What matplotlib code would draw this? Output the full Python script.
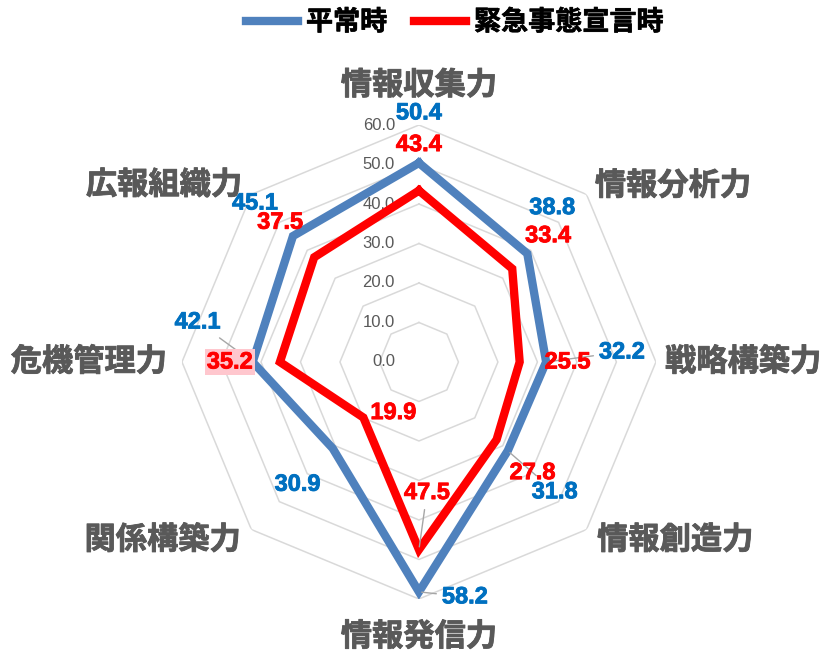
import numpy as np
import matplotlib
matplotlib.use('Agg')
import matplotlib.pyplot as plt
import matplotlib.patheffects as pe

# data
categories = ['情報収集力', '情報分析力', '戦略構築力', '情報創造力',
              '情報発信力', '関係構築力', '危機管理力', '広報組織力']
normal = [50.4, 38.8, 32.2, 31.8, 58.2, 30.9, 42.1, 45.1]
emergency = [43.4, 33.4, 25.5, 27.8, 47.5, 19.9, 35.2, 37.5]
series_names = ['平常時', '緊急事態宣言時']
ring_values = [0, 10, 20, 30, 40, 50, 60]

BLUE = '#4F81BD'
BLUE_TXT = '#0070C0'
RED = '#FF0000'
GRAY = '#595959'
CJK = ['Noto Sans CJK JP', 'DejaVu Sans']
NUM = ['Liberation Sans', 'DejaVu Sans']

def fat(c, w=1.2):
    # fake heavier weight
    return [pe.withStroke(linewidth=w, foreground=c)]

fig = plt.figure(figsize=(8.26, 6.54), dpi=100)
ax = fig.add_axes([0.2203, 0.0841, 0.5738, 0.7248], projection='polar')
ax.set_theta_zero_location('N')
ax.set_theta_direction(-1)
ax.set_ylim(0, 60)
ax.grid(False)
ax.spines['polar'].set_visible(False)
ax.set_xticks([])
ax.set_yticks([])
ax.patch.set_alpha(0)

n = len(categories)
theta = np.arange(n) * 2 * np.pi / n
theta_c = np.append(theta, theta[0])

# octagon rings
for r in ring_values[1:]:
    ax.plot(theta_c, [r] * (n + 1), color='#D9D9D9', lw=1.1, zorder=1)

# scale labels
for r in ring_values:
    ax.annotate(f'{r:.1f}', xy=(0, r), xytext=(-24, 0), textcoords='offset pixels',
                ha='right', va='center', fontsize=12, color=GRAY,
                family=NUM, zorder=2, annotation_clip=False)

# series
l1, = ax.plot(theta_c, normal + normal[:1], color=BLUE, lw=6, zorder=3,
              solid_joinstyle='miter', label=series_names[0])
l2, = ax.plot(theta_c, emergency + emergency[:1], color=RED, lw=6, zorder=4,
              solid_joinstyle='miter', label=series_names[1])

# category labels (radius, ha)
cat_pos = [(70.0, 'center'), (63.0, 'left'), (62.3, 'left'), (63.8, 'left'),
           (69.6, 'center'), (63.8, 'right'), (63.8, 'right'), (63.3, 'right')]
for t, lab, (r, ha) in zip(theta, categories, cat_pos):
    ax.text(t, r, lab, ha=ha, va='center', fontsize=22.5, fontweight='bold',
            color=GRAY, family=CJK, zorder=5, path_effects=fat(GRAY, 0.6))

# data labels: pixel offsets from the points
blue_off = [(0, 50), (25, 46), (76, 10), (47, -41), (46, -5), (-35, -36), (-55, 40), (-38, 33)]
red_off = [(0, 46), (36, 33), (48, 0), (36, -33), (8, 57), (30, 5), (-50, 0), (-34, 35)]
blue_lead = {4, 6, 2, 3}
red_lead = {4}

for i, (t, v) in enumerate(zip(theta, normal)):
    ap = None
    if i in blue_lead:
        ap = dict(arrowstyle='-', color='#A6A6A6', lw=1, shrinkA=2, shrinkB=2)
    ax.annotate(f'{v:.1f}', xy=(t, v), xytext=blue_off[i], textcoords='offset pixels',
                ha='center', va='center', fontsize=17, fontweight='bold',
                color=BLUE_TXT, family=NUM, zorder=6, arrowprops=ap,
                annotation_clip=False, path_effects=fat(BLUE_TXT, 0.6))

for i, (t, v) in enumerate(zip(theta, emergency)):
    ap = None
    if i in red_lead:
        ap = dict(arrowstyle='-', color='#A6A6A6', lw=1, shrinkA=2, shrinkB=2)
    bb = None
    if i == 6:
        bb = dict(boxstyle='square,pad=0.08', fc='#FFC7CE', ec='none')
    ax.annotate(f'{v:.1f}', xy=(t, v), xytext=red_off[i], textcoords='offset pixels',
                ha='center', va='center', fontsize=17, fontweight='bold',
                color=RED, family=NUM, zorder=7, arrowprops=ap, bbox=bb,
                annotation_clip=False, path_effects=fat(RED, 0.6))

leg = fig.legend(handles=[l1, l2], loc='upper center', bbox_to_anchor=(0.551, 1.025),
                 ncol=2, frameon=False, handlelength=1.9, handletextpad=0.3,
                 columnspacing=1.0, prop={'family': CJK, 'weight': 'bold', 'size': 19.5})
for txt in leg.get_texts():
    txt.set_path_effects(fat('black', 0.5))

fig.savefig('out.png', dpi=100)
